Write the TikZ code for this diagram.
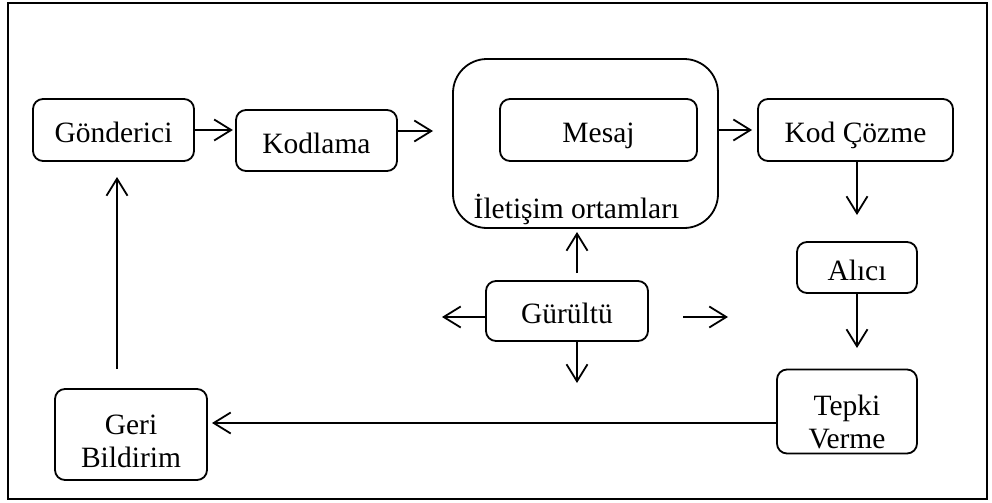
\documentclass[tikz,border=0pt]{standalone}
\usepackage{fontspec}
\setmainfont{Liberation Serif}
\usetikzlibrary{arrows.meta}
\begin{document}
\begin{tikzpicture}[x=0.5pt,y=-0.5pt,
  box/.style={draw,line width=0.9pt,rounded corners=5pt,inner sep=0pt,align=center,
    font=\fontsize{14.75}{16.5}\selectfont,text height=12.5pt,text depth=0pt},
  arr/.style={line width=0.9pt,-{Straight Barb[length=8.5pt,width=10.5pt,line width=0.9pt]}},
  lbl/.style={inner sep=0pt,font=\fontsize{14.75}{16.5}\selectfont}]
\useasboundingbox (0,0) rectangle (992,503);
\draw[line width=0.9pt] (8,3) rectangle (987,499);
% nodes
\node[box,minimum width=80.5pt,minimum height=31pt] (g) at (113.5,130) {Gönderici};
\node[box,minimum width=80.5pt,minimum height=30.5pt] (k) at (316.5,140.5) {Kodlama};
\node[box,rounded corners=17pt,minimum width=132.5pt,minimum height=84.5pt] (io) at (585.5,143.5) {};
\node[box,minimum width=98.5pt,minimum height=31pt] (m) at (598.5,130) {Mesaj};
\node[lbl,anchor=base] (iol) at (576.5,218) {İletişim ortamları};
\node[box,minimum width=97.5pt,minimum height=31pt] (kc) at (855.5,130) {Kod Çözme};
\node[box,minimum width=60pt,minimum height=25.5pt] (a) at (857,267.5) {Alıcı};
\node[box,text height=36.5pt,minimum width=70pt,minimum height=42pt] (t) at (847,411.5) {Tepki\\Verme};
\node[box,text height=33pt,minimum width=76pt,minimum height=45.5pt] (gb) at (131,434.5) {Geri\\Bildirim};
\node[box,minimum width=81pt,minimum height=30pt] (gu) at (567,311) {Gürültü};
% coordinates for free ends
\coordinate (c1) at (433,131);
\coordinate (c2) at (117,369);
\coordinate (c3) at (117,177);
\coordinate (c4) at (577,273);
\coordinate (c5) at (577,232);
\coordinate (c6) at (577,341);
\coordinate (c7) at (577,383);
\coordinate (c8) at (442,317);
\coordinate (c9) at (683,317);
\coordinate (c10) at (728,317);
\coordinate (c11) at (212,423);
\coordinate (c12) at (857,215);
\coordinate (c13) at (857,348);
% connectors
\draw[arr] (g.east) -- ++(38,0);
\draw[arr] (k.east |- c1) -- (c1);
\draw[arr] (io.east |- kc.west) -- ([xshift=-2.5pt]kc.west);
\draw[arr] (kc.south -| c12) -- (c12);
\draw[arr] (a.south -| c13) -- (c13);
\draw[arr] (t.west |- c11) -- (c11);
\draw[arr] (c2) -- (c3);
\draw[arr] (c4) -- (c5);
\draw[arr] (c6) -- (c7);
\draw[arr] (gu.west |- c8) -- (c8);
\draw[arr] (c9) -- (c10);
\end{tikzpicture}
\end{document}
